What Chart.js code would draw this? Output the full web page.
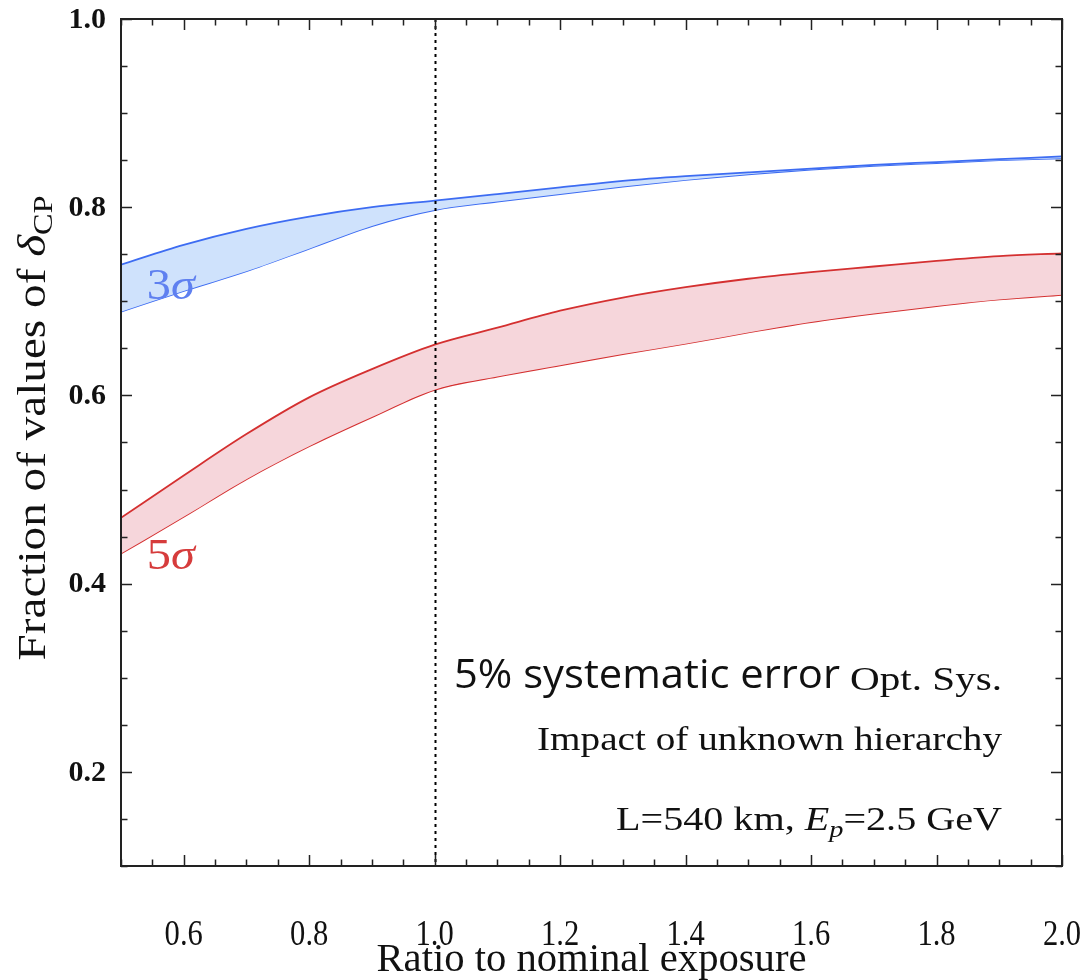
<!DOCTYPE html>
<html>
<head>
<meta charset="utf-8">
<script src="https://cdn.jsdelivr.net/npm/chart.js@4.4.1/dist/chart.umd.min.js"></script>
<style>
    html, body { margin: 0; padding: 0; background: #fff; }
    #wrap { width: 1087px; height: 980px; }
</style>
</head>
<body>
<div id="wrap"><canvas id="myChart" width="1087" height="980"></canvas></div>
<script>
// exposure ratio grid and the CP coverage bands
var ratio     = [0.5, 0.6, 0.7, 0.8, 0.9, 1.0, 1.1, 1.2, 1.3, 1.4, 1.5, 1.6, 1.7, 1.8, 1.9, 2.0];
var sig3Upper = [0.739, 0.760, 0.777, 0.790, 0.800, 0.807, 0.814, 0.821, 0.828, 0.833, 0.837, 0.841, 0.845, 0.848, 0.851, 0.854];
var sig3Lower = [0.689, 0.711, 0.732, 0.756, 0.780, 0.797, 0.806, 0.814, 0.822, 0.829, 0.835, 0.840, 0.844, 0.847, 0.850, 0.852];
var sig5Upper = [0.470, 0.515, 0.559, 0.598, 0.628, 0.654, 0.672, 0.690, 0.704, 0.715, 0.724, 0.731, 0.737, 0.743, 0.748, 0.751];
var sig5Lower = [0.432, 0.471, 0.511, 0.546, 0.577, 0.606, 0.620, 0.632, 0.644, 0.655, 0.667, 0.678, 0.687, 0.695, 0.702, 0.707];

var xTicks = [0.6, 0.8, 1.0, 1.2, 1.4, 1.6, 1.8, 2.0];
var xTickLabels = ['0.6', '0.8', '1.0', '1.2', '1.4', '1.6', '1.8', '2.0'];
var yTicks = [0.2, 0.4, 0.6, 0.8, 1.0];
var yTickLabels = ['0.2', '0.4', '0.6', '0.8', '1.0'];
var nominalRatio = 1.0;

var SERIF = '"Liberation Serif", "Times New Roman", Times, Tinos, serif';

function toPoints(ys) {
    return ratio.map(function(x, i) { return { x: x, y: ys[i] }; });
}

// squeeze text horizontally so it takes the given width
function fitText(ctx, txt, x, y, w, align) {
    var m = ctx.measureText(txt).width;
    ctx.save();
    ctx.translate(x, y);
    ctx.scale(w / m, 1);
    ctx.textAlign = align;
    ctx.fillText(txt, 0, 0);
    ctx.restore();
}

// text made of several runs (italic, subscripts), scaled to a total width
function drawRuns(ctx, runs, x, y, w, align) {
    var total = 0;
    runs.forEach(function(r) {
        ctx.font = r.font;
        r.w = ctx.measureText(r.t).width;
        total += r.w;
    });
    var sx = w / total;
    var start = align === 'right' ? -total : (align === 'center' ? -total / 2 : 0);
    ctx.save();
    ctx.translate(x, y);
    ctx.scale(sx, 1);
    ctx.textAlign = 'left';
    var cx = start;
    runs.forEach(function(r) {
        ctx.font = r.font;
        ctx.fillText(r.t, cx, r.dy || 0);
        cx += r.w;
    });
    ctx.restore();
}

var framePlugin = {
    id: 'framePlugin',
    afterDatasetsDraw: function(chart) {
        var ctx = chart.ctx, ca = chart.chartArea;
        var xs = chart.scales.x;
        var px = Math.round(xs.getPixelForValue(nominalRatio)) + 0.5;
        ctx.save();
        ctx.strokeStyle = '#000';
        ctx.lineWidth = 2;
        ctx.setLineDash([3, 4]);
        ctx.beginPath();
        ctx.moveTo(px, ca.top);
        ctx.lineTo(px, ca.bottom);
        ctx.stroke();
        ctx.restore();
    },
    afterDraw: function(chart) {
        var ctx = chart.ctx, ca = chart.chartArea;
        var xs = chart.scales.x, ys = chart.scales.y;
        ctx.save();
        ctx.strokeStyle = '#222';
        ctx.lineWidth = 1.5;

        // minor ticks every 0.05, major at the labelled values
        ctx.beginPath();
        for (var i = 0; i <= 30; i++) {
            var v = 0.5 + i * 0.05;
            var major = xTicks.some(function(t) { return Math.abs(t - v) < 1e-6; });
            var len = major ? 11 : 6.5;
            var p = Math.round(xs.getPixelForValue(v)) + 0.5;
            ctx.moveTo(p, ca.bottom); ctx.lineTo(p, ca.bottom - len);
            ctx.moveTo(p, ca.top); ctx.lineTo(p, ca.top + len);
        }
        for (var j = 0; j <= 18; j++) {
            var w = 0.1 + j * 0.05;
            var majorY = yTicks.some(function(t) { return Math.abs(t - w) < 1e-6; });
            var lenY = majorY ? 11 : 6.5;
            var q = Math.round(ys.getPixelForValue(w)) + 0.5;
            ctx.moveTo(ca.left, q); ctx.lineTo(ca.left + lenY, q);
            ctx.moveTo(ca.right, q); ctx.lineTo(ca.right - lenY, q);
        }
        ctx.stroke();

        ctx.lineWidth = 2;
        ctx.strokeRect(ca.left, ca.top, ca.right - ca.left, ca.bottom - ca.top);

        ctx.fillStyle = '#111';
        ctx.textBaseline = 'alphabetic';

        // x tick labels
        ctx.font = '36px ' + SERIF;
        xTicks.forEach(function(t, k) {
            var m = ctx.measureText(xTickLabels[k]).width;
            fitText(ctx, xTickLabels[k], xs.getPixelForValue(t), ca.bottom + 79, m * 0.85, 'center');
        });

        // y tick labels
        ctx.font = 'bold 30px ' + SERIF;
        ctx.textAlign = 'right';
        ctx.textBaseline = 'middle';
        yTicks.forEach(function(t, k) {
            ctx.fillText(yTickLabels[k], ca.left - 15, ys.getPixelForValue(t) + 1);
        });
        ctx.textBaseline = 'alphabetic';

        // axis titles
        ctx.font = '40px ' + SERIF;
        fitText(ctx, 'Ratio to nominal exposure', (ca.left + ca.right) / 2, 971, 430, 'center');

        ctx.save();
        ctx.translate(45, 428);
        ctx.rotate(-Math.PI / 2);
        drawRuns(ctx, [
            { t: 'Fraction of values of ', font: '41px ' + SERIF },
            { t: '\u03b4', font: 'italic 41px ' + SERIF },
            { t: 'CP', font: '28px ' + SERIF, dy: 7 }
        ], 0, 0, 465, 'center');
        ctx.restore();

        // band labels
        ctx.textAlign = 'left';
        ctx.fillStyle = '#5f80f0';
        drawRuns(ctx, [
            { t: '3', font: '44px ' + SERIF },
            { t: '\u03c3', font: 'italic 44px ' + SERIF }
        ], xs.getPixelForValue(0.541), ys.getPixelForValue(0.703), 48, 'left');
        ctx.fillStyle = '#d63c3c';
        drawRuns(ctx, [
            { t: '5', font: '44px ' + SERIF },
            { t: '\u03c3', font: 'italic 44px ' + SERIF }
        ], xs.getPixelForValue(0.541), ys.getPixelForValue(0.416), 48, 'left');

        // annotations
        var rx = ca.right - 60;
        ctx.fillStyle = '#111';
        ctx.font = '40px "Open Sans", "Liberation Sans", sans-serif';
        fitText(ctx, '5% systematic error', 454, 688, 386, 'left');
        ctx.font = '34px ' + SERIF;
        fitText(ctx, 'Opt. Sys.', rx, 690, 152, 'right');
        fitText(ctx, 'Impact of unknown hierarchy', rx, 750, 465, 'right');
        drawRuns(ctx, [
            { t: 'L=540 km, ', font: '34px ' + SERIF },
            { t: 'E', font: 'italic 34px ' + SERIF },
            { t: 'p', font: 'italic 24px ' + SERIF, dy: 7 },
            { t: '=2.5 GeV', font: '34px ' + SERIF }
        ], rx, 830, 386, 'right');
        ctx.restore();
    }
};

var ctx = document.getElementById('myChart').getContext('2d');
var myChart = new Chart(ctx, {
    type: 'line',
    data: {
        datasets: [
            { data: toPoints(sig3Upper), borderColor: '#3d6cf2', backgroundColor: '#cfe2fc', fill: '+1' },
            { data: toPoints(sig3Lower), borderColor: '#3d6cf2', fill: false },
            { data: toPoints(sig5Upper), borderColor: '#d43030', backgroundColor: '#f6d6db', fill: '+1' },
            { data: toPoints(sig5Lower), borderColor: '#d43030', fill: false }
        ]
    },
    options: {
        responsive: false,
        animation: false,
        devicePixelRatio: 1,
        layout: { padding: { left: 121, top: 19, right: 25, bottom: 114 } },
        plugins: { legend: { display: false }, tooltip: { enabled: false } },
        elements: {
            point: { radius: 0 },
            line: { borderWidth: 1.8, cubicInterpolationMode: 'monotone' }
        },
        scales: {
            x: { type: 'linear', min: 0.5, max: 2.0, display: false },
            y: { type: 'linear', min: 0.1, max: 1.0, display: false }
        }
    },
    plugins: [framePlugin]
});
</script>
</body>
</html>
